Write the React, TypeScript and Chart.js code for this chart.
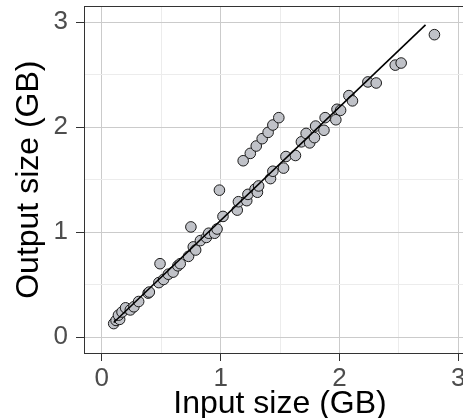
import React, { useEffect, useRef } from "react";
import { Chart, registerables } from "chart.js";

Chart.register(...registerables);

const inputGB = [
  0.10, 0.12, 0.15, 0.14, 0.17, 0.20, 0.24, 0.27, 0.31, 0.39, 0.40, 0.48, 0.52, 0.56, 0.60,
  0.64, 0.66, 0.73, 0.77, 0.79, 0.83, 0.88, 0.90, 0.95, 0.97, 1.02, 1.14, 1.15, 1.22, 1.23,
  1.29, 1.31, 1.32, 1.42, 1.44, 1.53, 1.55, 1.63, 1.68, 1.72, 1.75, 1.79, 1.80, 1.87, 1.88,
  1.97, 1.98, 2.01, 2.08, 2.11, 2.24, 2.31, 2.47, 2.52, 2.80,
  1.19, 1.25, 1.30, 1.35, 1.40, 1.44, 1.49,
  0.49, 0.75, 0.99,
];
const outputGB = [
  0.13, 0.16, 0.17, 0.21, 0.24, 0.28, 0.26, 0.29, 0.34, 0.42, 0.43, 0.52, 0.55, 0.60, 0.62,
  0.68, 0.70, 0.77, 0.86, 0.83, 0.92, 0.95, 0.99, 0.99, 1.03, 1.15, 1.21, 1.29, 1.30, 1.36,
  1.41, 1.38, 1.44, 1.51, 1.58, 1.61, 1.72, 1.73, 1.86, 1.94, 1.85, 1.90, 2.01, 1.97, 2.09,
  2.07, 2.17, 2.16, 2.30, 2.25, 2.43, 2.42, 2.59, 2.61, 2.88,
  1.68, 1.75, 1.82, 1.89, 1.95, 2.02, 2.09,
  0.70, 1.05, 1.40,
];
const fitX = [0.1, 2.725];
const fitY = [0.14, 2.973];
const tickValues = [0, 1, 2, 3];
const xTitle = "Input size (GB)";
const yTitle = "Output size (GB)";

const FONT = "'Liberation Sans', Arial, Helvetica, sans-serif";

export default function App() {
  const ref = useRef<HTMLCanvasElement | null>(null);

  useEffect(() => {
    if (!ref.current) return;
    const isMajor = (v: number) => tickValues.includes(v);
    const titlePlugin = {
      id: "panelDecor",
      afterDraw(chart: any) {
        const { ctx, chartArea } = chart;
        ctx.save();
        ctx.strokeStyle = "#333333";
        ctx.lineWidth = 1;
        ctx.beginPath();
        ctx.moveTo(chartArea.left, Math.round(chartArea.top) + 0.5);
        ctx.lineTo(chartArea.right, Math.round(chartArea.top) + 0.5);
        ctx.stroke();
        ctx.fillStyle = "#000000";
        ctx.font = `32px ${FONT}`;
        ctx.textAlign = "center";
        ctx.textBaseline = "alphabetic";
        ctx.fillText(xTitle, (chartArea.left + chartArea.right) / 2, 413);
        ctx.translate(38, (chartArea.top + chartArea.bottom) / 2);
        ctx.rotate(-Math.PI / 2);
        ctx.fillText(yTitle, 0, 0);
        ctx.restore();
      },
    };
    const gridOpts = {
      color: (c: any) => (c.tick && isMajor(c.tick.value) ? "#cbcbcb" : "#ececec"),
      lineWidth: 1,
      tickLength: 8,
      tickColor: (c: any) => (c.tick && isMajor(c.tick.value) ? "#333333" : "rgba(0,0,0,0)"),
      tickWidth: 1,
    };
    const tickOpts = (pad: number) => ({
      stepSize: 0.5,
      includeBounds: false,
      autoSkip: false,
      maxRotation: 0,
      padding: pad,
      color: "#4d4d4d",
      font: { size: 26, family: FONT },
      callback: (v: any) => (isMajor(Number(v)) ? String(v) : ""),
    });
    const chart = new Chart(ref.current, {
      type: "scatter",
      data: {
        datasets: [
          {
            type: "line",
            data: fitX.map((x, i) => ({ x, y: fitY[i] })),
            borderColor: "#000000",
            borderWidth: 1.6,
            pointRadius: 0,
            fill: false,
            order: 0,
          } as any,
          {
            type: "scatter",
            data: inputGB.map((x, i) => ({ x, y: outputGB[i] })),
            backgroundColor: "#c0c2c8",
            borderColor: "#1a1a1a",
            borderWidth: 1,
            pointRadius: 5.3,
            order: 1,
          },
        ],
      },
      options: {
        animation: false,
        responsive: true,
        maintainAspectRatio: false,
        layout: { padding: { left: 0, top: 5, right: 24, bottom: 0 } },
        plugins: { legend: { display: false }, tooltip: { enabled: false } },
        scales: {
          x: {
            type: "linear",
            min: -0.15,
            max: 3.15,
            grid: gridOpts as any,
            border: { display: true, color: "#333333", width: 1 },
            ticks: tickOpts(2) as any,
            afterFit: (s: any) => {
              s.height = 65;
              s.paddingLeft = 0;
              s.paddingRight = 0;
              s.paddingTop = 0;
              s.paddingBottom = 0;
            },
          },
          y: {
            type: "linear",
            min: -0.15,
            max: 3.15,
            grid: gridOpts as any,
            border: { display: true, color: "#333333", width: 1 },
            ticks: tickOpts(8) as any,
            afterFit: (s: any) => {
              s.width = 84;
              s.paddingLeft = 0;
              s.paddingRight = 0;
              s.paddingTop = 0;
              s.paddingBottom = 0;
            },
          },
        },
      },
      plugins: [titlePlugin],
    });
    return () => chart.destroy();
  }, []);

  return (
    <div style={{ position: "absolute", left: 0, top: 0, width: 463, height: 418, overflow: "hidden" }}>
      <div style={{ position: "relative", width: 500, height: 418 }}>
        <canvas ref={ref} />
      </div>
    </div>
  );
}
